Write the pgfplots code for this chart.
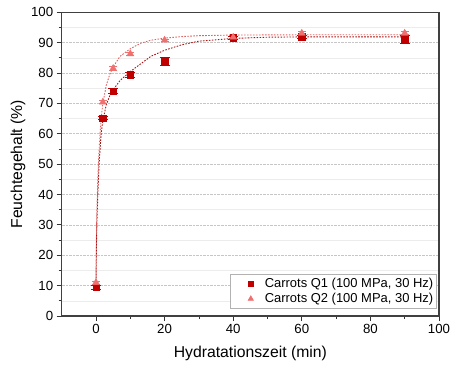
\documentclass[border=0pt]{standalone}
\usepackage{pgfplots}
\pgfplotsset{compat=1.18}
\usepackage{fontspec}
\setmainfont{Liberation Sans}
\definecolor{qone}{RGB}{192,0,0}
\definecolor{qtwo}{RGB}{240,112,112}
\definecolor{fitone}{RGB}{170,20,20}
\definecolor{fittwo}{RGB}{225,100,100}
\pgfplotsset{legmark/.style={legend image code/.code={\path[draw=none, fill=none] (0bp,0bp) -- (31bp,0bp);
    \draw[##1, mark size=#1] plot coordinates {(19bp,0bp)};}}}
\begin{document}
\begin{tikzpicture}
\path[use as bounding box] (-61.7bp,-55bp) rectangle (396.3bp,316bp);
\begin{axis}[
  at={(0,0)}, anchor=south west,
  scale only axis, width=377.3bp, height=303.7bp,
  xmin=-10, xmax=100, ymin=0, ymax=100,
  xtick={0,20,40,60,80,100}, ytick={0,10,...,100},
  minor x tick num=1, minor y tick num=1,
  xtick pos=bottom, ytick pos=left,
  tick align=outside,
  major tick length=5bp, minor tick length=3bp,
  tick style={black!80, line width=0.8pt},
  axis line style={black!75, line width=1.1pt},
  ymajorgrids=true, yminorgrids=true,
  major grid style={densely dotted, gray!45, line width=0.6pt},
  minor grid style={solid, gray!15, line width=0.6pt},
  /pgf/number format/assume math mode=true,
  ticklabel style={font=\fontsize{13.3}{15}\selectfont},
  label style={font=\fontsize{15.8}{18}\selectfont},
  xlabel={Hydratationszeit (min)},
  ylabel={Feuchtegehalt (\%)},
  xlabel style={at={(axis description cs:0.5,-0.122)}, anchor=center},
  ylabel style={at={(axis description cs:-0.116,0.5)}, anchor=center, rotate=0},
  legend cell align=left,
  legend style={at={(axis description cs:0.9947,0.026)}, anchor=south east,
    draw=gray!60, line width=0.6pt, font=\fontsize{13}{15}\selectfont,
    inner sep=1.5pt, row sep=0.5pt},
]
\addplot[only marks, mark=square*, mark size=3.2bp, color=qone, legmark=2.5bp,
  error bars/.cd, y dir=both, y explicit,
  error mark options={rotate=90, mark size=5bp, line width=0.9pt},
  error bar style={line width=0.9pt}]
  coordinates {
  (0,9.5) +- (0,0.7)
  (2,65.2) +- (0,0.6)
  (5,74.0) +- (0,0.8)
  (10,79.5) +- (0,0.8)
  (20,83.9) +- (0,1.3)
  (40,91.6) +- (0,0.6)
  (60,92.0) +- (0,0.5)
  (90,91.1) +- (0,1.3)
};
\addlegendentry{Carrots Q1 (100 MPa, 30 Hz)}
\addplot[only marks, mark=triangle*, mark size=4bp, color=qtwo, legmark=3.1bp,
  error bars/.cd, y dir=both, y explicit,
  error mark options={rotate=90, mark size=4bp, line width=0.8pt},
  error bar style={line width=0.8pt}]
  coordinates {
  (0,11.0) +- (0,0.5)
  (2,70.4) +- (0,0.5)
  (5,81.5) +- (0,0.6)
  (10,86.3) +- (0,0.5)
  (20,90.8) +- (0,0.4)
  (40,91.8) +- (0,0.5)
  (60,93.1) +- (0,0.5)
  (90,93.1) +- (0,0.5)
};
\addlegendentry{Carrots Q2 (100 MPa, 30 Hz)}
\addplot[forget plot, no marks, color=fittwo, line width=0.9pt, dash pattern=on 1.6pt off 1.4pt]
  coordinates {
  (0,11) (0.1,24) (0.25,34) (0.5,44) (0.75,51) (1,57) (1.5,65) (2,70) (3,76)
  (4,79.5) (5,82) (7,85.5) (10,88) (13,89.8) (16,90.8) (20,91.5) (25,92)
  (30,92.3) (40,92.5) (60,92.6) (90,92.6)
};
\addplot[forget plot, no marks, color=fitone, line width=0.9pt, dash pattern=on 1.6pt off 1.4pt]
  coordinates {
  (0,9.5) (0.1,21) (0.25,30) (0.5,39) (0.75,46) (1,52) (1.5,60) (2,64.5)
  (3,69.5) (4,72.5) (5,74.5) (7,77.5) (10,80.5) (13,83) (16,85.5) (20,87.5)
  (25,89.3) (30,90.5) (40,91.4) (50,91.8) (60,91.9) (75,91.9) (90,91.9)
};
\end{axis}
\end{tikzpicture}
\end{document}
